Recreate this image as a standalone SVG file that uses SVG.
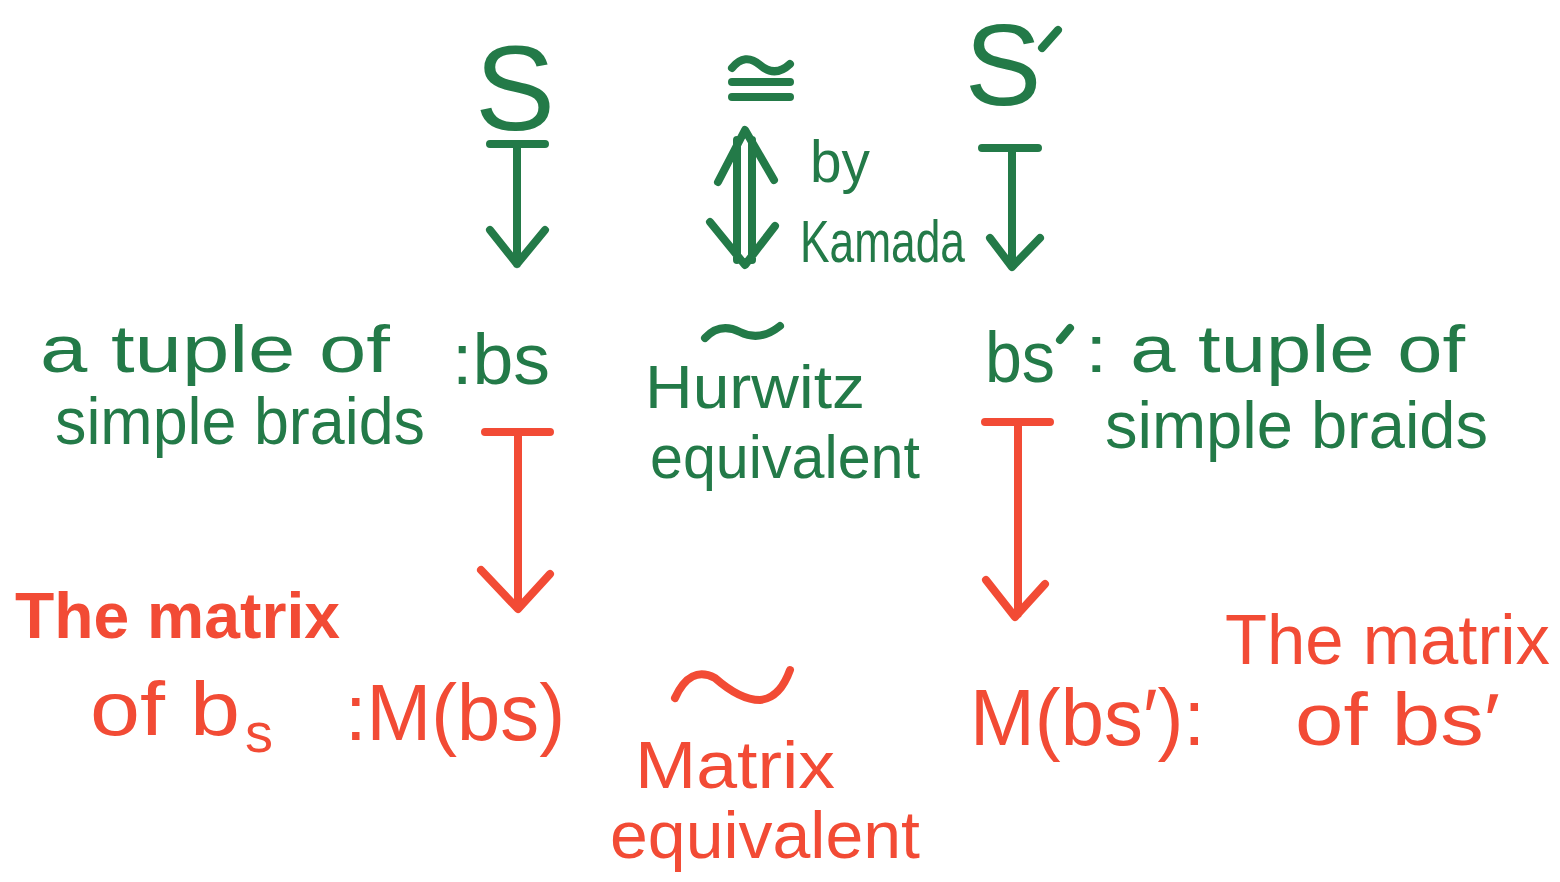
<svg xmlns="http://www.w3.org/2000/svg" width="1560" height="882" viewBox="0 0 1560 882">
<style>
.g{fill:#237a48;font-family:"Liberation Sans","DejaVu Sans",sans-serif}
.r{fill:#f24b35;font-family:"Liberation Sans","DejaVu Sans",sans-serif}
.gs{stroke:#237a48;fill:none;stroke-width:8;stroke-linecap:round;stroke-linejoin:round}
.rs{stroke:#f24b35;fill:none;stroke-width:8;stroke-linecap:round;stroke-linejoin:round}
</style>
<rect width="1560" height="882" fill="#ffffff"/>
<g id="node-S"><text class="g" x="515" y="130" font-size="120" text-anchor="middle">S</text></g>
<g id="node-cong"><path class="gs" d="M732,68 Q745,52 760,65 Q775,78 790,64"/><line class="gs" x1="732" y1="82" x2="790" y2="82"/><line class="gs" x1="732" y1="97" x2="790" y2="97"/></g>
<g id="node-Sprime"><text class="g" x="1003" y="105" font-size="115" text-anchor="middle">S</text><line class="gs" x1="1042" y1="48" x2="1058" y2="30"/></g>
<g id="node-kamada"><text class="g" x="810" y="182" font-size="60" textLength="60" lengthAdjust="spacingAndGlyphs">by</text><text class="g" x="800" y="262" font-size="60" textLength="165" lengthAdjust="spacingAndGlyphs">Kamada</text></g>
<g id="node-bs-left"><text class="g" x="40" y="372" font-size="66" textLength="350" lengthAdjust="spacingAndGlyphs">a tuple of</text><text class="g" x="55" y="444" font-size="66" textLength="370" lengthAdjust="spacingAndGlyphs">simple braids</text><text class="g" x="452" y="384" font-size="72" textLength="98" lengthAdjust="spacingAndGlyphs">:bs</text></g>
<g id="node-hurwitz"><path class="gs" d="M705,338 Q720,322 740,332 Q760,342 780,326"/><text class="g" x="645" y="408" font-size="62" textLength="220" lengthAdjust="spacingAndGlyphs">Hurwitz</text><text class="g" x="650" y="478" font-size="62" textLength="270" lengthAdjust="spacingAndGlyphs">equivalent</text></g>
<g id="node-bs-right"><text class="g" x="985" y="382" font-size="72" textLength="70" lengthAdjust="spacingAndGlyphs">bs</text><line class="gs" x1="1060" y1="340" x2="1070" y2="328"/><text class="g" x="1085" y="372" font-size="66" textLength="380" lengthAdjust="spacingAndGlyphs">: a tuple of</text><text class="g" x="1105" y="448" font-size="66" textLength="383" lengthAdjust="spacingAndGlyphs">simple braids</text></g>
<g id="node-M-left"><text class="r" x="15" y="638" font-size="64" font-weight="bold" textLength="325" lengthAdjust="spacingAndGlyphs">The matrix</text><text class="r" x="90" y="735" font-size="76" textLength="150" lengthAdjust="spacingAndGlyphs">of b</text><text class="r" x="245" y="752" font-size="56">s</text><text class="r" x="345" y="740" font-size="80" textLength="220" lengthAdjust="spacingAndGlyphs">:M(bs)</text></g>
<g id="node-matrix-eq"><path class="rs" d="M675,698 Q690,665 715,678 Q740,700 760,700 Q780,698 790,670"/><text class="r" x="635" y="788" font-size="66" textLength="200" lengthAdjust="spacingAndGlyphs">Matrix</text><text class="r" x="610" y="858" font-size="66" textLength="310" lengthAdjust="spacingAndGlyphs">equivalent</text></g>
<g id="node-M-right"><text class="r" x="970" y="745" font-size="80" textLength="235" lengthAdjust="spacingAndGlyphs">M(bs′):</text><text class="r" x="1225" y="664" font-size="70" textLength="325" lengthAdjust="spacingAndGlyphs">The matrix</text><text class="r" x="1295" y="745" font-size="74" textLength="205" lengthAdjust="spacingAndGlyphs">of bs′</text></g>
<g id="connectors">
<path class="gs" d="M490,144 L545,144 M517,144 L517,264 M490,230 L517,264 L545,230"/>
<path class="gs" d="M737,140 L737,260 M752,140 L752,260 M718,182 L745,130 L774,180 M710,222 L745,265 L775,226"/>
<path class="gs" d="M982,148 L1038,148 M1012,148 L1012,266 M990,238 L1012,267 L1040,238"/>
<path class="rs" d="M485,432 L550,432 M518,432 L518,606 M481,570 L518,609 L550,574"/>
<path class="rs" d="M985,422 L1050,422 M1018,422 L1018,614 M986,580 L1015,617 L1045,584"/>
</g>
</svg>
